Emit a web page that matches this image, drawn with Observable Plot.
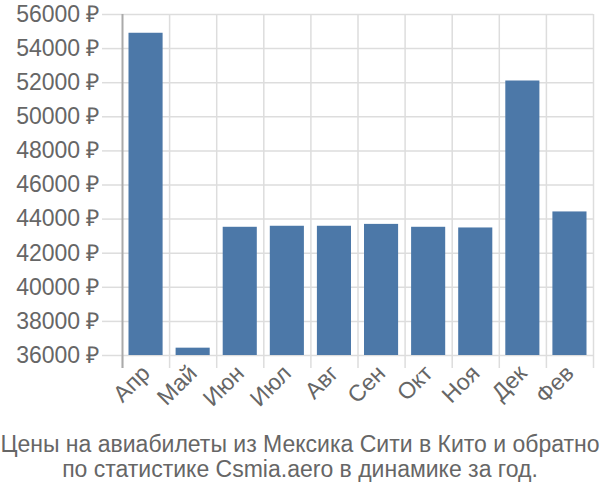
<!DOCTYPE html>
<html>
<head>
<meta charset="utf-8">
<script src="https://cdn.jsdelivr.net/npm/d3@7"></script>
<script src="https://cdn.jsdelivr.net/npm/@observablehq/plot@0.6"></script>
<style>
  body { margin: 0; background: #fff; font-family: "Liberation Sans Narrow", "Liberation Sans", Arial, sans-serif; }
  #chart { width: 600px; height: 430px; }
  .caption { width: 600px; text-align: center; color: #666; font-size: 23px; line-height: 25px; margin-top: 2px; font-family: "Liberation Sans Narrow", "Liberation Sans", Arial, sans-serif; }
</style>
</head>
<body>
<div id="chart"></div>
<script>
const months = ["Апр", "Май", "Июн", "Июл", "Авг", "Сен", "Окт", "Ноя", "Дек", "Фев"];
const prices = [54900, 36430, 43520, 43580, 43580, 43690, 43520, 43480, 52100, 44420];
const yTicks = [36000, 38000, 40000, 42000, 44000, 46000, 48000, 50000, 52000, 54000, 56000];
const captionLines = [
  "Цены на авиабилеты из Мексика Сити в Кито и обратно",
  "по статистике Csmia.aero в динамике за год."
];

const data = months.map((m, i) => ({ month: m, i, price: prices[i] }));
const edges = d3.range(0, months.length + 1);
const centers = months.map((m, i) => i + 0.5);
const yMin = yTicks[0];

const plot = Plot.plot({
  width: 600,
  height: 430,
  marginLeft: 122,
  marginRight: 7,
  marginTop: 14,
  marginBottom: 75,
  style: { fontFamily: "'Liberation Sans Narrow', 'Liberation Sans', Arial, sans-serif", fontSize: "23px", color: "#666", background: "#fff" },
  x: { type: "linear", domain: [0, months.length] },
  y: { domain: [yTicks[0], yTicks[yTicks.length - 1]] },
  marks: [
    Plot.ruleY(yTicks, { stroke: "#ddd", strokeWidth: 1.5 }),
    Plot.ruleX(edges.slice(1), { stroke: "#ddd", strokeWidth: 1.5 }),
    Plot.axisY({ ticks: yTicks, tickFormat: d => d + " ₽", tickSize: 20, tickPadding: 3, stroke: "#ddd", strokeWidth: 1.5, strokeOpacity: 1, fill: "#666", label: null, fontSize: 23 }),
    Plot.axisX({ ticks: edges, tickFormat: () => "", tickSize: 13, stroke: "#ddd", strokeWidth: 1.5, strokeOpacity: 1, label: null }),
    Plot.axisX({ ticks: centers, tickFormat: d => months[Math.floor(d)], tickSize: 0, tickPadding: 14, tickRotate: -45, fill: "#666", label: null, fontSize: 23 }),
    Plot.rectY(data, { x1: "i", x2: d => d.i + 1, y1: yMin, y2: "price", fill: "#4c78a8", insetLeft: 6.5, insetRight: 6.5 }),
    Plot.ruleX([0], { stroke: "#aaa", strokeWidth: 2, insetBottom: -13 })
  ]
});
d3.select(plot).selectAll("text").style("font-size", "23px").style("font-family", "'Liberation Sans Narrow', 'Liberation Sans', Arial, sans-serif");
document.getElementById("chart").appendChild(plot);
const cap = document.createElement("div");
cap.className = "caption";
cap.innerHTML = captionLines.join("<br>");
document.body.appendChild(cap);
</script>
</body>
</html>
